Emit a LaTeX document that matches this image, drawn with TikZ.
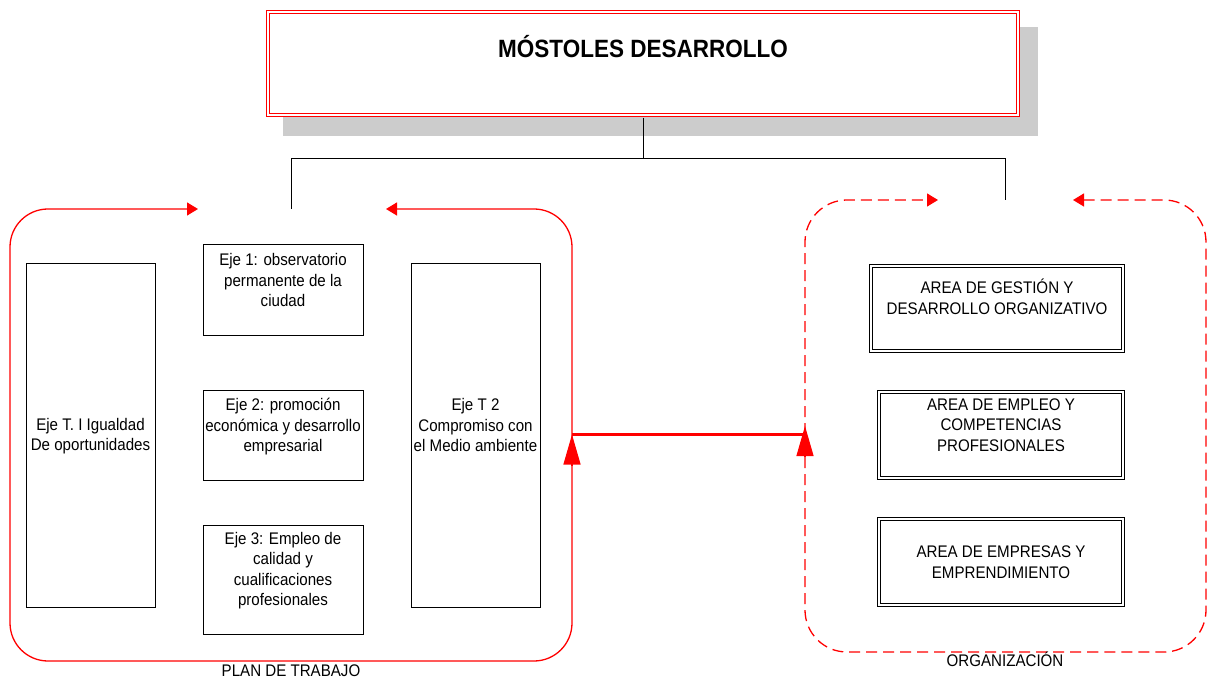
\documentclass[tikz,border=0pt]{standalone}
\usepackage{fontspec}
\setmainfont{Liberation Sans}[FakeStretch=0.9]
\usetikzlibrary{arrows.meta}
\definecolor{shadowgray}{RGB}{204,204,204}
\begin{document}
\begin{tikzpicture}[x=1pt,y=-1pt,
  txt/.style={font=\fontsize{16.8}{20.5}\selectfont, align=center, inner sep=0pt},
  box/.style={draw=black, line width=0.9pt, inner sep=0pt},
  dbox/.style={draw=black, double=white, double distance=2pt, line width=0.8pt, inner sep=0pt},
  titlebox/.style={draw=red, fill=white, double=white, double distance=2.4pt, line width=0.9pt, inner sep=0pt},
  conn/.style={draw=black, line width=0.9pt},
  redframe/.style={draw=red, line width=1.3pt},
  tipsmall/.style={{Triangle[length=11pt,width=13pt]}-{Triangle[length=11pt,width=13pt]}},
  bigtip/.style={-{Triangle[length=30pt,width=17pt]}, draw=red, line width=1.2pt}
]
\useasboundingbox (0,0) rectangle (1213,684);

% title with shadow
\fill[shadowgray] (283,27) rectangle (1038,136);
\node[titlebox, minimum width=750pt, minimum height=103pt] (title) at (643,63.5) {};
\node[inner sep=0pt, font=\fontsize{25}{30}\selectfont\bfseries] (ttext) at (643,47) {MÓSTOLES DESARROLLO};

% tree connectors
\coordinate (hub) at (643,158);
\coordinate (jl) at (291,209);
\coordinate (jr) at (1005,200);
\draw[conn] ([yshift=-2.3pt]title.south) -- (hub) -| (jl);
\draw[conn] (hub) -| (jr);

% left frame (PLAN DE TRABAJO)
\draw[redframe, tipsmall, rounded corners=38pt]
  (386,209) -- (572,209) -- (572,661) -- (10,661) -- (10,209) -- (198,209);

% right frame (ORGANIZACION)
\draw[redframe, dash pattern=on 11pt off 6pt, tipsmall, rounded corners=42pt]
  (1073,200) -- (1206,200) -- (1206,652) -- (805,652) -- (805,200) -- (938,200);

% middle connection
\coordinate (ml) at (572,434.5);
\coordinate (mr) at (805,434.5);
\coordinate (mlb) at (572,466);
\coordinate (mrb) at (805,456);
\coordinate (mrt) at (805,426);
\draw[red, line width=3.8pt] (ml) -- (mr);
\draw[bigtip] (mlb) -- (ml);
\draw[bigtip] (mrb) -- (mrt);

% left boxes
\node[box, minimum width=129pt, minimum height=344pt] (ti) at (90.5,435) {};
\node[box, minimum width=160pt, minimum height=91pt] (e1) at (283,289.5) {};
\node[box, minimum width=160pt, minimum height=90pt] (e2) at (283,435) {};
\node[box, minimum width=160pt, minimum height=109pt] (e3) at (283,579.5) {};
\node[box, minimum width=129pt, minimum height=344pt] (t2) at (475.5,435) {};

\node[txt] (tti) at (90.5,436) {Eje T. I Igualdad\\De oportunidades};
\node[txt] (te1) at (283,280) {Eje 1: observatorio\\permanente de la\\ciudad};
\node[txt] (te2) at (283,427) {Eje 2: promoción\\económica y desarrollo\\empresarial};
\node[txt] (te3) at (283,570.5) {Eje 3: Empleo de\\calidad y\\cualificaciones\\profesionales};
\node[txt] (tt2) at (475.5,425) {Eje T 2\\Compromiso con\\el Medio ambiente};

% right boxes
\node[dbox, minimum width=252pt, minimum height=85pt] (a1) at (997,308.5) {};
\node[dbox, minimum width=244pt, minimum height=86pt] (a2) at (1001,435) {};
\node[dbox, minimum width=244pt, minimum height=86pt] (a3) at (1001,562) {};

\node[txt] (ta1) at (997,297) {AREA DE GESTIÓN Y\\DESARROLLO ORGANIZATIVO};
\node[txt] (ta2) at (1001,425) {AREA DE EMPLEO Y\\COMPETENCIAS\\PROFESIONALES};
\node[txt] (ta3) at (1001,562) {AREA DE EMPRESAS Y\\EMPRENDIMIENTO};

% frame labels
\node[txt] (plan) at (291,671) {PLAN DE TRABAJO};
\node[txt] (org) at (1005,659) {ORGANIZACIÓN};
\end{tikzpicture}
\end{document}
